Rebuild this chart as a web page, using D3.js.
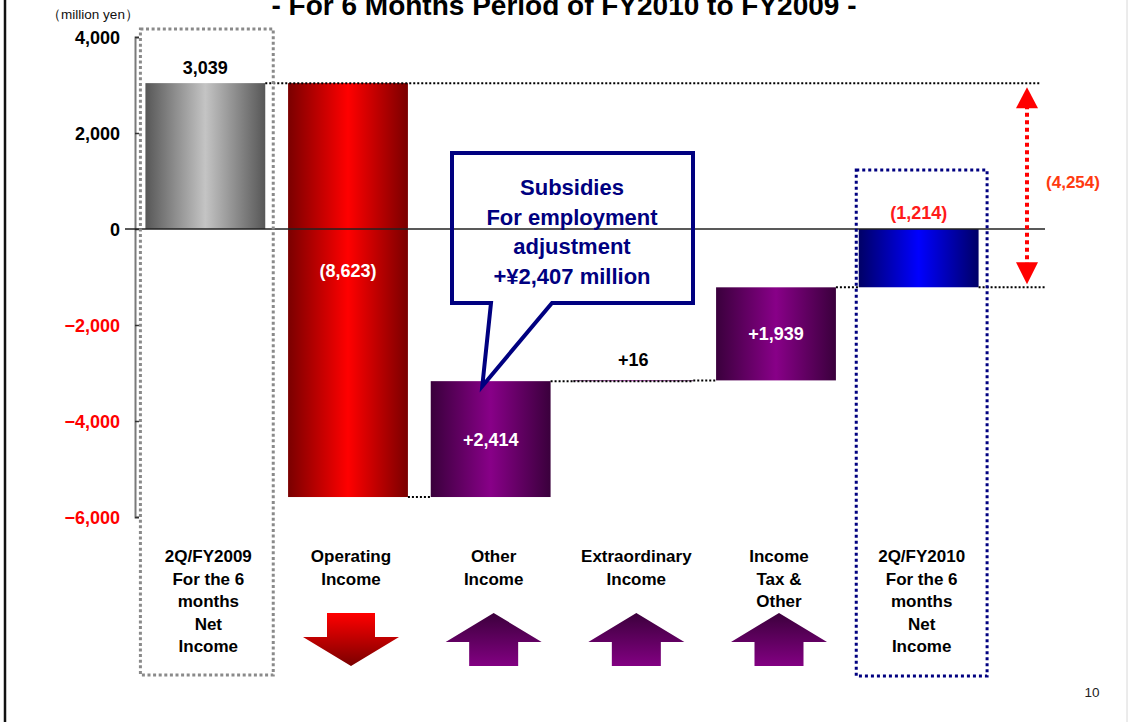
<!DOCTYPE html>
<html>
<head>
<meta charset="utf-8">
<script src="https://cdn.jsdelivr.net/npm/d3@7"></script>
<style>
  html, body { margin: 0; padding: 0; background: #fff; }
  svg { display: block; }
</style>
</head>
<body>
<svg id="chart" width="1128" height="722"></svg>
<script>
// ---- data -------------------------------------------------------------
const categoryKeys = ["FY2009", "Operating", "Other", "Extraordinary", "Tax", "FY2010"];
const categoryLines = [
  ["2Q/FY2009", "For the 6", "months", "Net", "Income"],
  ["Operating", "Income"],
  ["Other", "Income"],
  ["Extraordinary", "Income"],
  ["Income", "Tax &", "Other"],
  ["2Q/FY2010", "For the 6", "months", "Net", "Income"]
];
const startValue = 3039;                 // 2Q/FY2009 net income
const changes = [-8623, 2414, 16, 1939]; // operating, other, extraordinary, tax & other
const endValue = -1214;                  // 2Q/FY2010 net income
const valueLabels = ["3,039", "(8,623)", "+2,414", "+16", "+1,939", "(1,214)"];
const gapLabel = "(4,254)";
const yTicks = [4000, 2000, 0, -2000, -4000, -6000];
const calloutLines = ["Subsidies", "For employment", "adjustment", "+¥2,407 million"];
const titleText = "- For 6 Months Period of FY2010 to FY2009 -";
const unitText = "（million yen）";
const pageNumber = "10";

// ---- setup ------------------------------------------------------------
const svg = d3.select("#chart");
const NUM_FONT = "'Liberation Sans', Arial, sans-serif";

const x = d3.scaleBand().domain(categoryKeys).range([134, 990])
  .paddingInner(0.16).paddingOuter(0.08);
const y = d3.scaleLinear().domain([-6000, 4000]).range([517, 37]);
const bw = x.bandwidth();

// waterfall segments
const bars = [{ key: categoryKeys[0], from: 0, to: startValue, kind: "total", label: valueLabels[0] }];
let running = startValue;
changes.forEach((c, i) => {
  bars.push({ key: categoryKeys[i + 1], from: running, to: running + c,
              kind: c < 0 ? "down" : "up", label: valueLabels[i + 1] });
  running += c;
});
bars.push({ key: categoryKeys[5], from: 0, to: endValue, kind: "total", label: valueLabels[5] });

// ---- gradients --------------------------------------------------------
const defs = svg.append("defs");
function hGrad(id, edge, mid) {
  const g = defs.append("linearGradient").attr("id", id)
    .attr("x1", "0").attr("x2", "1").attr("y1", "0").attr("y2", "0");
  g.append("stop").attr("offset", "0").attr("stop-color", edge);
  g.append("stop").attr("offset", "0.5").attr("stop-color", mid);
  g.append("stop").attr("offset", "1").attr("stop-color", edge);
}
function vGrad(id, top, bottom) {
  const g = defs.append("linearGradient").attr("id", id)
    .attr("x1", "0").attr("x2", "0").attr("y1", "0").attr("y2", "1");
  g.append("stop").attr("offset", "0").attr("stop-color", top);
  g.append("stop").attr("offset", "1").attr("stop-color", bottom);
}
hGrad("gGray", "#575757", "#c4c4c4");
hGrad("gRed", "#7a0000", "#ff0000");
hGrad("gPurple", "#3a003c", "#880088");
hGrad("gBlue", "#000066", "#0000ff");
vGrad("gArrowDown", "#ff0000", "#7a0000");
vGrad("gArrowUp", "#3c003c", "#820082");

const fillFor = (b, i) => i === 0 ? "url(#gGray)"
  : i === bars.length - 1 ? "url(#gBlue)"
  : b.kind === "down" ? "url(#gRed)" : "url(#gPurple)";

// ---- frame ------------------------------------------------------------
svg.append("line").attr("x1", 5).attr("x2", 5).attr("y1", 0).attr("y2", 722)
  .attr("stroke", "#111").attr("stroke-width", 2.5);
svg.append("line").attr("x1", 1127).attr("x2", 1127).attr("y1", 0).attr("y2", 722)
  .attr("stroke", "#d8d8d8").attr("stroke-width", 1);

// ---- title & unit -----------------------------------------------------
svg.append("text").attr("x", 564).attr("y", 15).attr("text-anchor", "middle")
  .attr("font-family", NUM_FONT).attr("font-weight", "bold").attr("font-size", 28)
  .attr("fill", "#000").text(titleText);
svg.append("text").attr("x", 93).attr("y", 19).attr("text-anchor", "middle")
  .attr("font-family", NUM_FONT).attr("font-size", 13.5).attr("fill", "#111").text(unitText);

// ---- y axis -----------------------------------------------------------
const axis = d3.axisLeft(y).tickValues(yTicks)
  .tickSizeInner(-4).tickSizeOuter(-4).tickPadding(15)
  .tickFormat(d3.format(","));
const gAxis = svg.append("g").attr("transform", "translate(135,0)").call(axis);
gAxis.select(".domain").attr("stroke", "#7a7a7a").attr("stroke-width", 2);
gAxis.selectAll(".tick line").attr("stroke", "#333").attr("stroke-width", 1.5);
gAxis.selectAll(".tick text")
  .attr("font-family", NUM_FONT).attr("font-weight", "bold").attr("font-size", 18)
  .attr("dy", "0.38em")
  .attr("fill", d => d < 0 ? "#ff0000" : "#000");

// ---- bars -------------------------------------------------------------
svg.append("g").selectAll("rect").data(bars).join("rect")
  .attr("x", d => x(d.key))
  .attr("width", bw)
  .attr("y", d => y(Math.max(d.from, d.to)))
  .attr("height", d => Math.abs(y(d.from) - y(d.to)))
  .attr("fill", (d, i) => fillFor(d, i));

// zero line
svg.append("line").attr("x1", 125).attr("x2", 1045).attr("y1", y(0)).attr("y2", y(0))
  .attr("stroke", "#222").attr("stroke-width", 1.3);

// ---- dotted connectors ------------------------------------------------
const gapX = 1027;
const dotted = svg.append("g").attr("stroke", "#000").attr("stroke-width", 2)
  .attr("stroke-dasharray", "2 2").attr("fill", "none");
// reference lines for the two totals
dotted.append("line")
  .attr("x1", x(bars[0].key) + bw).attr("x2", gapX + 13)
  .attr("y1", y(startValue)).attr("y2", y(startValue));
dotted.append("line")
  .attr("x1", x(bars[bars.length - 1].key) + bw).attr("x2", gapX + 18)
  .attr("y1", y(endValue)).attr("y2", y(endValue));
// step connectors between consecutive bars
for (let i = 1; i < bars.length - 1; i++) {
  const lvl = bars[i].to;
  dotted.append("line")
    .attr("x1", x(bars[i].key) + bw).attr("x2", x(bars[i + 1].key))
    .attr("y1", y(lvl)).attr("y2", y(lvl));
  // a step too small to see is shown as a dotted line across its band
  if (Math.abs(y(bars[i].from) - y(bars[i].to)) < 2) {
    dotted.append("line")
      .attr("x1", x(bars[i].key)).attr("x2", x(bars[i].key) + bw)
      .attr("y1", y(bars[i].from)).attr("y2", y(bars[i].from));
  }
}

// ---- value labels -----------------------------------------------------
svg.append("g").selectAll("text").data(bars).join("text")
  .attr("x", d => x(d.key) + bw / 2)
  .attr("y", d => {
    const top = y(Math.max(d.from, d.to)), bot = y(Math.min(d.from, d.to));
    if (d.kind === "total" || bot - top < 30) return top - (d.kind === "total" ? 16 : 21);
    if (d.from > 0 && d.to < 0) return y(0) + 42;
    return (top + bot) / 2;
  })
  .attr("dy", "0.36em")
  .attr("text-anchor", "middle")
  .attr("font-family", NUM_FONT).attr("font-weight", "bold").attr("font-size", 18)
  .attr("fill", (d, i) => {
    const h = Math.abs(y(d.from) - y(d.to));
    if (i === bars.length - 1) return "#ff1a1a";
    if (d.kind === "total" || h < 30) return "#000";
    return "#fff";
  })
  .text(d => d.label);

// ---- category boxes ---------------------------------------------------
svg.append("rect")
  .attr("x", x(categoryKeys[0]) - 5).attr("width", bw + 13)
  .attr("y", 29).attr("height", 646)
  .attr("fill", "none").attr("stroke", "#8a8a8a").attr("stroke-width", 3)
  .attr("stroke-dasharray", "3 2.6");
svg.append("rect")
  .attr("x", x(categoryKeys[5]) - 2.5).attr("width", bw + 11)
  .attr("y", 170).attr("height", 506)
  .attr("fill", "none").attr("stroke", "#000080").attr("stroke-width", 3)
  .attr("stroke-dasharray", "3 3");

// ---- category labels --------------------------------------------------
const labelG = svg.append("g").attr("font-family", NUM_FONT).attr("font-weight", "bold")
  .attr("font-size", 17).attr("fill", "#000").attr("text-anchor", "middle");
categoryKeys.forEach((k, i) => {
  const t = labelG.append("text").attr("x", x(k) + bw / 2 + 3).attr("y", 562);
  categoryLines[i].forEach((ln, j) => {
    t.append("tspan").attr("x", x(k) + bw / 2 + 3).attr("y", 562 + j * 22.5).text(ln);
  });
});

// ---- direction arrows under each step ---------------------------------
const arrowTop = 613, arrowBot = 666;
bars.slice(1, -1).forEach(b => {
  const cx = x(b.key) + bw / 2 + 3;
  let pts;
  if (b.kind === "down") {
    pts = [[cx - 24, arrowTop], [cx + 24, arrowTop], [cx + 24, 637], [cx + 48, 637],
           [cx, arrowBot], [cx - 48, 637], [cx - 24, 637]];
  } else {
    pts = [[cx, arrowTop], [cx + 48, 642], [cx + 24.5, 642], [cx + 24.5, arrowBot],
           [cx - 24.5, arrowBot], [cx - 24.5, 642], [cx - 48, 642]];
  }
  svg.append("path").attr("d", d3.line()(pts) + "Z")
    .attr("fill", b.kind === "down" ? "url(#gArrowDown)" : "url(#gArrowUp)");
});

// ---- callout for other income -----------------------------------------
const cb = { l: 452, r: 693, t: 153, b: 303, tailL: 491, tailR: 552 };
const otherBar = bars[2];
const tip = [x(otherBar.key) + bw * 0.43, y(otherBar.to) + 5];
svg.append("path")
  .attr("d", `M${cb.l},${cb.t}H${cb.r}V${cb.b}H${cb.tailR}L${tip[0]},${tip[1]}L${cb.tailL},${cb.b}H${cb.l}Z`)
  .attr("fill", "none").attr("stroke", "#000080").attr("stroke-width", 4)
  .attr("stroke-linejoin", "miter");
const ct = svg.append("text").attr("text-anchor", "middle")
  .attr("font-family", NUM_FONT).attr("font-weight", "bold").attr("font-size", 22)
  .attr("fill", "#000080");
calloutLines.forEach((ln, j) => {
  ct.append("tspan").attr("x", 572).attr("y", 195 + j * 29.5).text(ln);
});

// ---- change between the two totals ------------------------------------
const gy1 = y(startValue) + 4, gy2 = y(endValue) - 3;
svg.append("line").attr("x1", gapX).attr("x2", gapX)
  .attr("y1", gy1 + 18).attr("y2", gy2 - 18)
  .attr("stroke", "#ff0000").attr("stroke-width", 4).attr("stroke-dasharray", "4 3.5");
svg.append("path").attr("d", d3.line()([[gapX, gy1], [gapX + 11, gy1 + 21], [gapX - 11, gy1 + 21]]) + "Z")
  .attr("fill", "#ff0000");
svg.append("path").attr("d", d3.line()([[gapX, gy2], [gapX + 11, gy2 - 22], [gapX - 11, gy2 - 22]]) + "Z")
  .attr("fill", "#ff0000");
svg.append("text").attr("x", 1073).attr("y", (gy1 + gy2) / 2 - 4).attr("dy", "0.36em")
  .attr("text-anchor", "middle")
  .attr("font-family", NUM_FONT).attr("font-weight", "bold").attr("font-size", 17)
  .attr("fill", "#ff3a10").text(gapLabel);

// ---- page number ------------------------------------------------------
svg.append("text").attr("x", 1092).attr("y", 697).attr("text-anchor", "middle")
  .attr("font-family", NUM_FONT).attr("font-size", 13.5).attr("fill", "#222").text(pageNumber);
</script>
</body>
</html>
